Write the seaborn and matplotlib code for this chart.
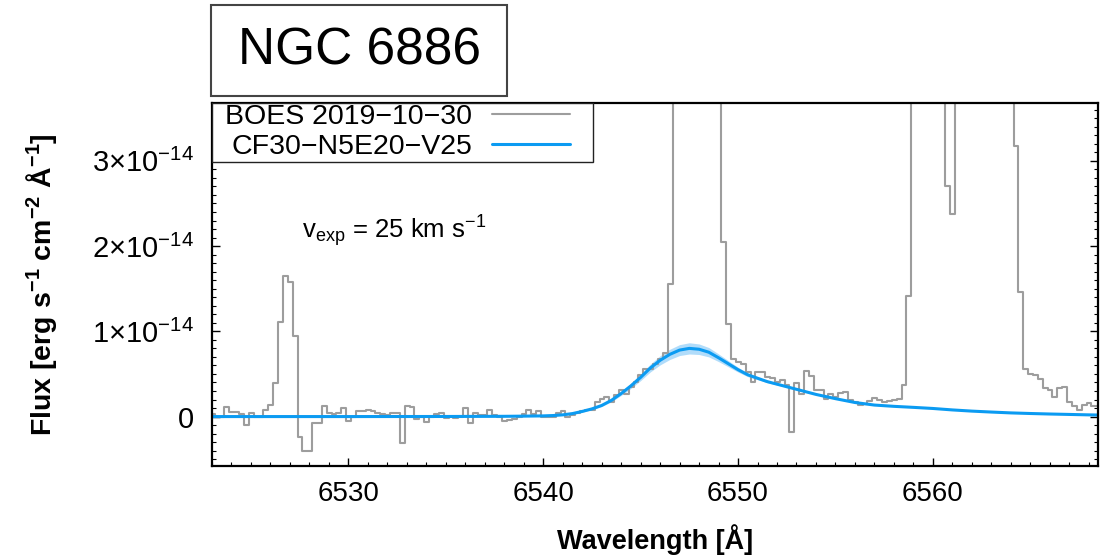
import numpy as np
import matplotlib
matplotlib.use("Agg")
import matplotlib.pyplot as plt
import matplotlib.patches as mpatches
from matplotlib.ticker import MultipleLocator, FixedLocator, FixedFormatter
import seaborn as sns

# ---- observed spectrum (BOES), flux in units of 1e-14 erg/s/cm2/A ----
FLUX_UNIT = 1e-14
wl_start = 6523.015   # first pixel centre [A]
wl_step = 0.25        # pixel width [A]
obs_flux = [
    0.03, 0.00, 0.00, 0.115, 0.05, 0.05, 0.03, -0.10, 0.04, 0.00,
    0.00, 0.08, 0.13, 0.39, 1.11, 1.655, 1.58, 0.95, -0.24, -0.40,
    -0.40, -0.08, -0.08, 0.12, 0.045, 0.03, 0.045, 0.10, -0.05, 0.00,
    0.07, 0.07, 0.075, 0.06, 0.04, 0.03, 0.02, 0.04, 0.04, -0.31,
    0.12, 0.115, -0.03, 0.00, -0.06, 0.00, 0.03, 0.045, -0.02, 0.00,
    -0.02, 0.00, 0.10, -0.08, 0.045, 0.02, 0.02, 0.08, 0.02, 0.00,
    -0.05, -0.04, -0.03, 0.00, 0.03, 0.08, 0.03, 0.06, 0.00, 0.00,
    0.00, 0.045, 0.06, 0.00, 0.02, 0.04, 0.06, 0.08, 0.08, 0.17,
    0.21, 0.23, 0.17, 0.25, 0.31, 0.27, 0.35, 0.41, 0.485, 0.56,
    0.56, 0.62, 0.68, 0.74, 1.56,
    # [N II] 6548 core (off scale)
    6.0, 22.0, 48.0, 75.0, 90.0, 82.0, 60.0, 34.0, 15.0, 6.0,
    2.05, 1.09, 0.68, 0.64, 0.62, 0.52, 0.41, 0.52, 0.52, 0.47,
    0.45, 0.41, 0.43, 0.37, -0.18, 0.39, 0.27, 0.54, 0.48, 0.31,
    0.31, 0.21, 0.26, 0.23, 0.28, 0.29, 0.19, 0.17, 0.13, 0.15,
    0.18, 0.22, 0.19, 0.17, 0.18, 0.20, 0.21, 0.37, 1.42,
    # H-alpha core (off scale)
    7.0, 25.0, 55.0, 80.0, 70.0, 40.0, 12.0,
    2.70, 2.38,
    15.0, 60.0, 120.0, 180.0, 210.0, 220.0, 200.0, 160.0, 110.0, 60.0, 25.0, 8.0,
    3.18, 1.46, 0.56, 0.50, 0.485, 0.446, 0.34, 0.31, 0.23, 0.33,
    0.35, 0.17, 0.12, 0.075, 0.13, 0.16, 0.12, 0.12,
]

# ---- model CF30-N5E20-V25 (Raman-scattered feature) ----
model_wl = [6523.0, 6530.0, 6535.0, 6538.0, 6539.0, 6540.0, 6540.5, 6541.0, 6541.5,
            6542.0, 6542.5, 6543.0, 6543.5, 6544.0, 6544.5, 6545.0, 6545.5, 6546.0,
            6546.5, 6547.0, 6547.5, 6548.0, 6548.5, 6549.0, 6549.5, 6550.0, 6550.5,
            6551.0, 6551.5, 6552.0, 6552.5, 6553.0, 6554.0, 6555.0, 6556.0, 6557.0,
            6558.0, 6559.0, 6560.0, 6561.0, 6562.0, 6563.0, 6564.0, 6565.0, 6566.0,
            6567.0, 6568.0, 6568.5]
model_flux = [0.0, 0.0, 0.001, 0.003, 0.005, 0.008, 0.012, 0.02, 0.035,
              0.06, 0.09, 0.13, 0.19, 0.27, 0.36, 0.46, 0.57, 0.66,
              0.73, 0.78, 0.80, 0.79, 0.755, 0.69, 0.62, 0.55, 0.49,
              0.45, 0.41, 0.38, 0.35, 0.32, 0.26, 0.21, 0.165, 0.135,
              0.12, 0.108, 0.095, 0.078, 0.064, 0.053, 0.043, 0.036, 0.03,
              0.025, 0.02, 0.018]
model_err = [0.0, 0.0, 0.0, 0.0, 0.0, 0.002, 0.003, 0.004, 0.005,
             0.007, 0.009, 0.012, 0.016, 0.022, 0.03, 0.038, 0.046, 0.054,
             0.06, 0.064, 0.066, 0.062, 0.055, 0.045, 0.036, 0.028, 0.022,
             0.017, 0.013, 0.01, 0.008, 0.007, 0.005, 0.004, 0.003, 0.003,
             0.002, 0.002, 0.002, 0.002, 0.002, 0.002, 0.002, 0.002, 0.002,
             0.002, 0.002, 0.002]

xticks = [6530, 6540, 6550, 6560]
ytick_vals = [0, 1, 2, 3]
ytick_labels = ["0",
                r"$\mathregular{1{\times}10^{-14}}$",
                r"$\mathregular{2{\times}10^{-14}}$",
                r"$\mathregular{3{\times}10^{-14}}$"]

obs_label = "BOES 2019\u221210\u221230"
model_label = "CF30\u2212N5E20\u2212V25"
object_name = "NGC 6886"

GRAY = "#9d9d9d"
BLUE = "#0b9bf2"
BAND = "#a9d9fa"

sns.set_theme(style="ticks")
plt.rcParams["font.family"] = ["Liberation Sans", "DejaVu Sans"]
plt.rcParams["mathtext.fontset"] = "custom"
plt.rcParams["mathtext.rm"] = "Liberation Sans"
plt.rcParams["mathtext.it"] = "Liberation Sans:italic"
plt.rcParams["mathtext.bf"] = "Liberation Sans:bold"
plt.rcParams["axes.unicode_minus"] = True
for key in ("text.color", "axes.labelcolor", "xtick.color", "ytick.color", "axes.edgecolor"):
    plt.rcParams[key] = "black"

W, H = 1109, 558
AX_L, AX_R, AX_T, AX_B = 212, 1097.5, 102.5, 466
fig = plt.figure(figsize=(W / 100, H / 100), dpi=100)
ax = fig.add_axes([AX_L / W, 1 - AX_B / H, (AX_R - AX_L) / W, (AX_B - AX_T) / H])


def ax_x(px):
    return (px - AX_L) / (AX_R - AX_L)


def ax_y(py):
    return (AX_B - py) / (AX_B - AX_T)


obs_wl = wl_start + wl_step * np.arange(len(obs_flux))
obs = np.array(obs_flux) * FLUX_UNIT
mwl = np.array(model_wl)
mfl = np.array(model_flux) * FLUX_UNIT
merr = np.array(model_err) * FLUX_UNIT

sns.lineplot(x=obs_wl, y=obs, ax=ax, color=GRAY, lw=1.5, drawstyle="steps-mid",
             estimator=None, sort=False, label=obs_label, legend=False)
ax.fill_between(mwl, mfl - merr, mfl + merr, color=BAND, lw=0, alpha=0.9)
sns.lineplot(x=mwl, y=mfl, ax=ax, color=BLUE, lw=2.2,
             estimator=None, sort=False, label=model_label, legend=False)

ax.set_xlim(6523.0, 6568.45)
ax.set_ylim(-0.58 * FLUX_UNIT, 3.685 * FLUX_UNIT)

ax.xaxis.set_major_locator(FixedLocator(xticks))
ax.xaxis.set_minor_locator(MultipleLocator(1))
ax.yaxis.set_major_locator(FixedLocator([v * FLUX_UNIT for v in ytick_vals]))
ax.yaxis.set_major_formatter(FixedFormatter(ytick_labels))
ax.yaxis.set_minor_locator(MultipleLocator(0.1 * FLUX_UNIT))

ax.tick_params(which="both", direction="in", left=True, right=True, bottom=True,
               top=False, colors="black", labelsize=20)
ax.tick_params(which="major", length=5.5, width=1.0, pad=11)
ax.tick_params(which="minor", length=3.0, width=0.8)
ax.tick_params(axis="y", which="major", pad=13, labelsize=21)

for s in ax.spines.values():
    s.set_color("black")
    s.set_linewidth(1.6)
    s.set_visible(True)

ax.set_xlabel("Wavelength [\u00c5]", fontsize=19.5, fontweight="bold", labelpad=0)
ax.set_ylabel(r"Flux [erg s$\mathregular{^{-1}}$ cm$\mathregular{^{-2}}$ "
              r"$\mathregular{\AA}$$\mathregular{^{-1}}$]",
              fontsize=20.5, fontweight="bold")
ax.xaxis.label.set_va("center")
ax.yaxis.label.set_va("center")
ax.xaxis.set_label_coords(0.5, ax_y(540))
ax.yaxis.set_label_coords(ax_x(42), 0.5)

ax.text(ax_x(302), ax_y(238),
        r"v$\mathregular{_{exp}}$ = 25 km s$\mathregular{^{-1}}$",
        transform=ax.transAxes, fontsize=18.5, ha="left", va="baseline")

# legend: entries with the sample line after the text, inside a square frame
leg = ax.legend(loc="upper left", bbox_to_anchor=(ax_x(225), ax_y(104)),
                borderaxespad=0, borderpad=0, markerfirst=False, frameon=False,
                fontsize=20.5, handlelength=2.74, handletextpad=0.7,
                labelspacing=0.15)
leg.set_zorder(6)
ax.add_patch(mpatches.Rectangle((0, ax_y(162)), ax_x(593), ax_y(AX_T) - ax_y(162),
                                transform=ax.transAxes, facecolor="white",
                                edgecolor="#222222", lw=1.0, zorder=5.5))

# object name in a framed box above the panel
fig.patches.append(mpatches.Rectangle((210.7 / W, 1 - 95.7 / H), 296.4 / W, 90.3 / H,
                                      transform=fig.transFigure, fill=False,
                                      edgecolor="#444444", lw=1.5))
fig.text(359 / W, 1 - 51 / H, object_name, fontsize=37, ha="center", va="center",
         color="black")

fig.savefig("out.png", dpi=100, facecolor="white")
